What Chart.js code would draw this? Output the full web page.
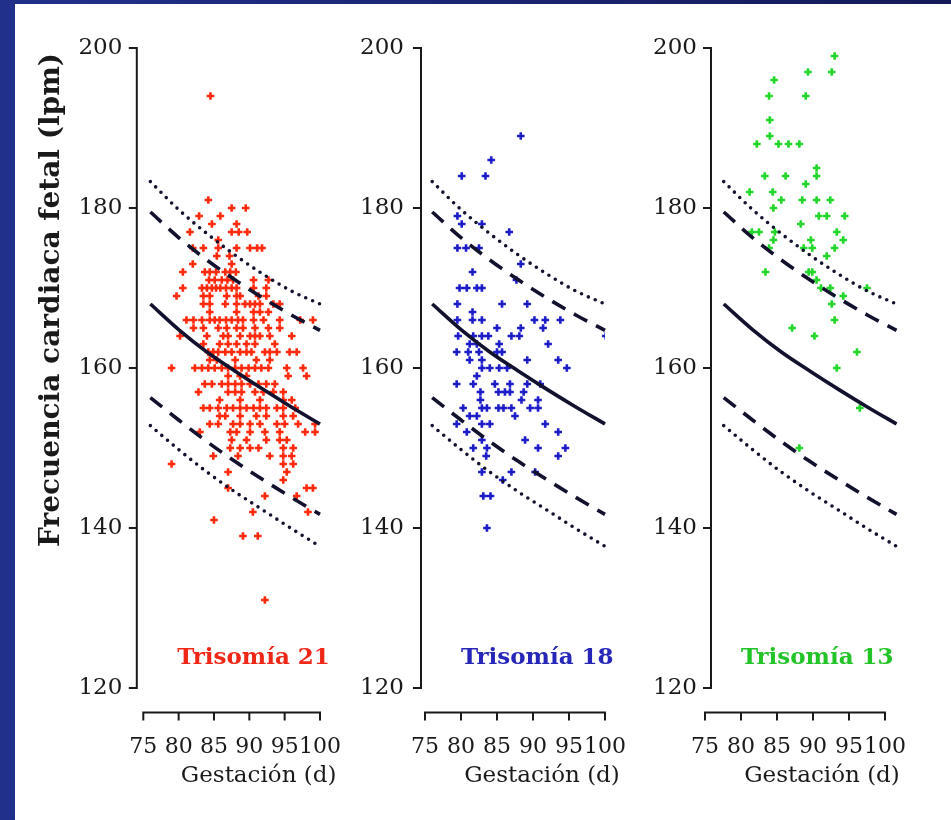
<!DOCTYPE html>
<html>
<head>
<meta charset="utf-8">
<script src="https://cdn.jsdelivr.net/npm/chart.js@4.4.1/dist/chart.umd.min.js"></script>
<style>
    html, body { margin: 0; padding: 0; }
    body {
        width: 951px;
        height: 820px;
        position: relative;
        overflow: hidden;
        background: linear-gradient(to right, #21308c, #141a58);
    }
    #sheet { position: absolute; left: 15px; top: 4px; right: 0; bottom: 0; background: #fff; }
    canvas { position: absolute; top: 0; }
</style>
</head>
<body>
<div id="sheet"></div>
<canvas id="t21" width="321" height="820" style="left:20px"></canvas>
<canvas id="t18" width="281" height="820" style="left:345px"></canvas>
<canvas id="t13" width="276" height="820" style="left:630px"></canvas>
<script>
// axis ticks
const xTicks = [75, 80, 85, 90, 95, 100];
const yTicks = [120, 140, 160, 180, 200];

// reference curves (same in the three panels)
const curveDays = [76, 80, 84, 88, 92, 96, 100];
const curveDaysT13 = [77.6, 81.6, 85.6, 89.6, 93.6, 97.6, 101.6]; // drawn shifted in the 3rd panel
const p50 = [168, 164.8, 162, 159.6, 157.3, 155.1, 153];
const p90 = [179.5, 176.3, 173.5, 171, 168.7, 166.6, 164.7];
const p10 = [156.3, 153.5, 150.8, 148.3, 146, 143.8, 141.7];
const p95 = [183.3, 179.8, 176.8, 174.1, 171.7, 169.6, 168];
const p5 = [152.8, 149.8, 147, 144.5, 142.2, 139.9, 137.7];

// scatter points: [bpm, [gestational days...]]
const t21Rows = [
    [194, [84.5]],
    [181, [84.2]],
    [180, [87.5, 89.5]],
    [179, [82.9, 85.9]],
    [178, [84.7, 88.2]],
    [177, [81.6, 87.5, 88.5, 89.7]],
    [176, [85.6]],
    [175, [82, 83.5, 85.6, 88.2, 90.1, 91.1, 91.8]],
    [174, [85.4, 87.2]],
    [173, [82, 87.5]],
    [172, [80.6, 83.7, 84.4, 85.3, 86.6, 87.3, 88.1]],
    [171, [84.3, 85.1, 86.1, 86.9, 87.7, 90.6, 92.7]],
    [170, [80.6, 83.3, 84, 84.7, 85.3, 85.9, 86.7, 87.5, 88.2, 90.6, 92.4]],
    [169, [79.7, 83.5, 84.4, 86.8, 88.2, 88.7, 91.3, 92.4]],
    [168, [83.5, 84.4, 86.6, 88.2, 89.4, 90.1, 90.8, 91.5, 93.4, 94.3]],
    [167, [84.4, 88.2, 90.6, 91.5, 92.7]],
    [166, [81.1, 82.1, 83.3, 84.4, 85.1, 85.8, 86.7, 87.5, 88.4, 89.1, 90.6, 92, 94.3, 97.2, 99]],
    [165, [82.1, 83.5, 85.6, 86.8, 88.2, 89.1, 90.8, 92.7, 94.3]],
    [164, [80.2, 84, 86.3, 87, 88.7, 90.1, 90.8, 91.5, 92.9, 96]],
    [163, [83.5, 85.8, 87, 88.2, 89.6, 90.8, 93.6]],
    [162, [84.2, 84.9, 85.6, 86.6, 87.5, 88.7, 89.6, 90.3, 92.2, 92.9, 93.9, 95.7, 96.7]],
    [161, [84.4, 85.4, 88, 91, 92.9]],
    [160, [79, 82.3, 83.3, 84.2, 85.1, 86.1, 87, 88, 88.9, 89.9, 90.8, 91.7, 92.7, 95.3, 97.6]],
    [159, [87, 88.7, 89.6, 95.5, 98.1]],
    [158, [83.7, 84.7, 86.1, 87, 88, 88.9, 90.1, 91.3, 92.4, 93.6]],
    [157, [82.8, 87, 88, 88.9, 90.8, 92, 93.4, 94.8]],
    [156, [85.8, 88.7, 91.5, 94.8, 96]],
    [155, [83.5, 84.4, 85.6, 86.8, 87.7, 88.7, 89.6, 90.6, 91.5, 92.4, 93.9, 94.8, 96.5]],
    [154, [85.8, 86.6, 88.7, 91, 92.4, 94.8, 96.2]],
    [153, [84.4, 85.6, 87.7, 88.7, 90.1, 91.5, 93.9, 95, 96.9, 99.3]],
    [152, [83, 87.3, 88.2, 90.1, 92.2, 94.3, 97.9, 99.3]],
    [151, [87.5, 89.6, 92.4, 94.3, 95.3]],
    [150, [87.3, 88.7, 90.1, 91.3, 94.8, 96.2]],
    [149, [84.9, 88.4, 92.9, 94.8, 96]],
    [148, [79, 94.8, 96.2]],
    [147, [87, 95.3]],
    [146, [94.8]],
    [145, [87, 98.1, 99]],
    [144, [92.2, 96.7]],
    [142, [90.5, 98.3]],
    [141, [85]],
    [139, [89.1, 91.2]],
    [131, [92.2]]
];

const t18Rows = [
    [189, [88.3]],
    [186, [84.2]],
    [184, [80.1, 83.4]],
    [179, [79.5]],
    [178, [80.1, 82.9]],
    [177, [86.7]],
    [175, [79.5, 80.7, 82.5]],
    [173, [88.3]],
    [172, [81.6]],
    [171, [87.7]],
    [170, [79.8, 80.8, 82.2, 82.9]],
    [168, [79.5, 85.7, 89.2]],
    [167, [81.6]],
    [166, [79.5, 81.6, 82.9, 90.2, 91.7, 93.8]],
    [165, [85, 88.3, 91.4]],
    [164, [79.6, 81.7, 82.9, 83.8, 87, 88.1, 100.1]],
    [163, [81.2, 82.2, 85.3, 92.1]],
    [162, [79.4, 81, 82.5, 85, 85.7]],
    [161, [81.2, 82.9, 89.2, 93.5]],
    [160, [82.9, 84, 85.3, 86.4, 94.7]],
    [159, [82.2]],
    [158, [79.4, 81.7, 84.7, 86.8, 89.2, 91]],
    [157, [82.7, 85.2, 86.1, 86.8, 88.7]],
    [156, [82.7, 88.4, 90.7]],
    [155, [80.3, 82.9, 83.6, 85.2, 85.9, 87, 89.6, 90.7]],
    [154, [81.2, 82.2, 87.5]],
    [153, [79.4, 82.9, 84, 91.7]],
    [152, [80.8, 93.5]],
    [151, [82.9, 88.9]],
    [150, [81.7, 83.6, 90.7, 94.5]],
    [149, [83.5, 93.5]],
    [147, [82.9, 87, 90.3]],
    [146, [85.8]],
    [144, [83.1, 84.1]],
    [140, [83.6]]
];

const t13Rows = [
    [199, [93]],
    [197, [89.3, 92.6]],
    [196, [84.6]],
    [194, [83.9, 89]],
    [191, [84]],
    [189, [84]],
    [188, [82.2, 85.2, 86.6, 88.1]],
    [185, [90.5]],
    [184, [83.3, 86.2, 90.5]],
    [183, [89]],
    [182, [81.2, 84.4]],
    [181, [85.6, 88.5, 90.5, 92.4]],
    [180, [84.5]],
    [179, [90.8, 91.9, 94.4]],
    [178, [88.3]],
    [177, [81.5, 82.5, 84.7, 93.3]],
    [176, [84.5, 89.7, 94.2]],
    [175, [83.9, 88.7, 89.9, 93]],
    [174, [91.9]],
    [172, [83.4, 89.4, 89.9]],
    [171, [90.5, 100.9]],
    [170, [91.1, 92.4, 97.5]],
    [169, [94.2]],
    [168, [92.6]],
    [166, [93]],
    [165, [87.1]],
    [164, [90.2]],
    [162, [96.1]],
    [160, [93.3]],
    [155, [96.5]],
    [150, [88.1]]
];

const serif = "'DejaVu Serif', 'Liberation Serif', serif";
const lineColor = "#12122e";

function toPoints(rows) {
    const pts = [];
    rows.forEach(([bpm, days]) => days.forEach((d) => pts.push({ x: d, y: bpm })));
    return pts;
}

function curve(days, values) {
    return days.map((d, i) => ({ x: d, y: values[i] }));
}

// draws offset axes (Prism style), panel name and axis titles
const panelDecor = {
    id: "panelDecor",
    afterDraw(chart, args, o) {
        const { ctx, chartArea, scales: { x, y } } = chart;
        ctx.save();
        ctx.strokeStyle = "#1a1a1a";
        ctx.lineWidth = 2;
        ctx.lineCap = "square";
        ctx.beginPath();
        const ax = chartArea.left + o.yShift;
        ctx.moveTo(ax, y.getPixelForValue(200));
        ctx.lineTo(ax, y.getPixelForValue(120));
        yTicks.forEach((v) => {
            const py = y.getPixelForValue(v);
            ctx.moveTo(ax - 7, py);
            ctx.lineTo(ax, py);
        });
        const ay = chartArea.bottom + 24.5;
        ctx.moveTo(x.getPixelForValue(75), ay);
        ctx.lineTo(x.getPixelForValue(100), ay);
        xTicks.forEach((d) => {
            const px = x.getPixelForValue(d);
            ctx.moveTo(px, ay);
            ctx.lineTo(px, ay + 7);
        });
        ctx.stroke();

        // panel name
        ctx.fillStyle = o.nameColor;
        ctx.font = "bold 23px " + serif;
        ctx.textAlign = "center";
        ctx.textBaseline = "middle";
        ctx.fillText(o.name, x.getPixelForValue(90.6), y.getPixelForValue(123.8));

        // x title
        ctx.fillStyle = "#1a1a1a";
        ctx.font = "23px " + serif;
        ctx.fillText("Gestación (d)", (x.left + x.right) / 2 + 27, chartArea.bottom + 88);

        // y title, first panel only
        if (o.yTitle) {
            ctx.translate(chartArea.left - 92, y.getPixelForValue(168.5));
            ctx.rotate(-Math.PI / 2);
            ctx.font = "bold 28px " + serif;
            ctx.fillText(o.yTitle, 0, 0);
        }
        ctx.restore();
    },
};

const panels = [
    { id: "t21", rows: t21Rows, color: "#ff2a0e", name: "Trisomía 21", nameColor: "#f02616",
      yWidth: 123.3, yShift: -6.5, labelPad: 21, days: curveDays, yTitle: "Frecuencia cardiaca fetal (lpm)" },
    { id: "t18", rows: t18Rows, color: "#1c1cc8", name: "Trisomía 18", nameColor: "#2626b8",
      yWidth: 80, yShift: -4, labelPad: 21, days: curveDays, yTitle: "" },
    { id: "t13", rows: t13Rows, color: "#22d62a", name: "Trisomía 13", nameColor: "#22c428",
      yWidth: 75, yShift: 6, labelPad: 8, days: curveDaysT13, yTitle: "" },
];

function lineSet(days, values, dash, cap) {
    return {
        type: "line",
        data: curve(days, values),
        borderColor: lineColor,
        borderWidth: 3.6,
        borderDash: dash,
        borderCapStyle: cap,
        pointRadius: 0,
        tension: 0.4,
        cubicInterpolationMode: "monotone",
        clip: false,
        order: 0,
    };
}

panels.forEach((p) => {
    const ctx = document.getElementById(p.id).getContext("2d");
    new Chart(ctx, {
        type: "scatter",
        data: {
            datasets: [
                lineSet(p.days, p95, [0, 7.5], "round"),
                lineSet(p.days, p90, [15, 10], "butt"),
                lineSet(p.days, p50, [], "butt"),
                lineSet(p.days, p10, [15, 10], "butt"),
                lineSet(p.days, p5, [0, 7.5], "round"),
                {
                    data: toPoints(p.rows),
                    pointStyle: "cross",
                    pointRadius: 3.8,
                    borderColor: p.color,
                    backgroundColor: p.color,
                    borderWidth: 2.6,
                    order: 1,
                },
            ],
        },
        options: {
            responsive: false,
            animation: false,
            events: [],
            layout: { padding: { left: 0, right: 0, top: 48, bottom: 52 } },
            plugins: {
                legend: { display: false },
                tooltip: { enabled: false },
                panelDecor: { yShift: p.yShift, name: p.name, nameColor: p.nameColor, yTitle: p.yTitle },
            },
            scales: {
                x: {
                    type: "linear",
                    min: 75,
                    max: 100,
                    afterBuildTicks: (s) => { s.ticks = xTicks.map((v) => ({ value: v })); },
                    afterFit: (s) => { s.height = 80; },
                    // invisible tick marks only push the labels down
                    grid: { display: true, color: "rgba(0,0,0,0)", drawOnChartArea: false,
                            drawTicks: true, tickLength: 46 },
                    border: { display: false },
                    ticks: { autoSkip: false, maxRotation: 0, padding: 0, color: "#1a1a1a",
                             font: { family: serif, size: 22 } },
                },
                y: {
                    min: 120,
                    max: 200,
                    afterBuildTicks: (s) => { s.ticks = yTicks.map((v) => ({ value: v })); },
                    afterFit: (s) => { s.width = p.yWidth; },
                    grid: { display: false, drawTicks: false },
                    border: { display: false },
                    ticks: { padding: p.labelPad, color: "#1a1a1a", font: { family: serif, size: 23 } },
                },
            },
        },
        plugins: [panelDecor],
    });
});
</script>
</body>
</html>
